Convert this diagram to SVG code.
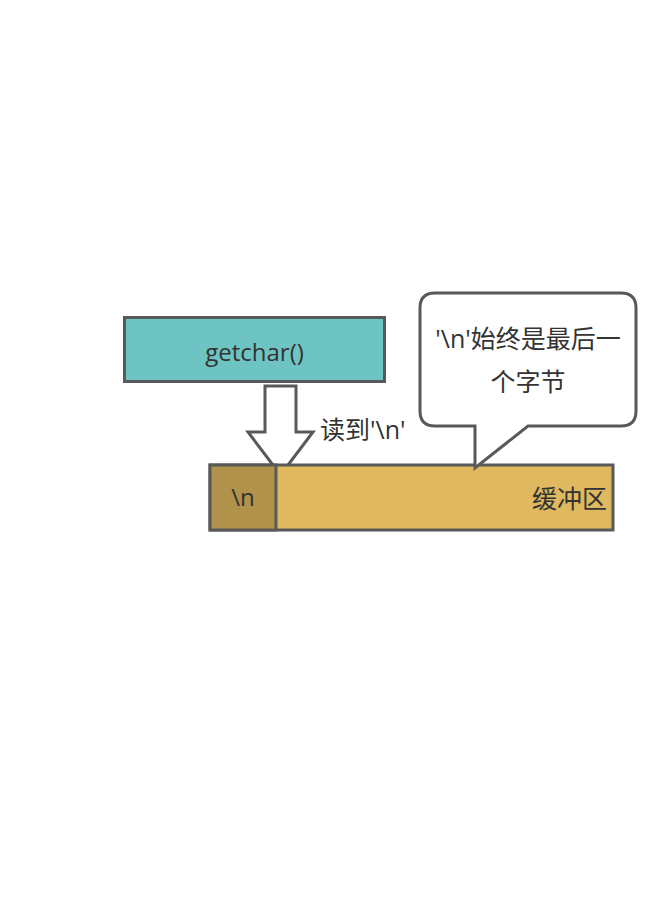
<svg xmlns="http://www.w3.org/2000/svg" width="649" height="919" viewBox="0 0 649 919">
<style>
.s{stroke:#595959;stroke-width:3;}
.t{font-family:"Open Sans","Noto Sans CJK SC",sans-serif;font-size:25px;fill:#333333;}
.m{font-size:24px;}
</style>
<rect width="649" height="919" fill="#ffffff"/>
<g id="connectors">
<polygon class="s" fill="#ffffff" stroke-linejoin="miter" points="265,386 296,386 296,432 313,432 280.5,475 248,432 265,432"/>
</g>
<g id="getchar">
<rect class="s" x="124.5" y="317.5" width="260" height="64" fill="#6EC3C3"/>
<text class="t m" x="254.5" y="361" text-anchor="middle">getchar()</text>
</g>
<g id="buffer">
<rect class="s" x="210" y="465" width="403" height="65" fill="#DFB85F"/>
<text class="t" x="607" y="508" text-anchor="end">缓冲区</text>
</g>
<g id="newline-cell">
<rect class="s" x="210" y="465" width="66" height="65" fill="#B0924A"/>
<text class="t m" x="243" y="506" text-anchor="middle">\n</text>
</g>
<g id="label-read">
<text class="t" x="320" y="439">读到'\n'</text>
</g>
<g id="callout">
<path class="s" fill="#ffffff" stroke-linejoin="miter" d="M435,293 H621 Q636,293 636,308 V411 Q636,426 621,426 H528 L475,468 V426 H435 Q420,426 420,411 V308 Q420,293 435,293 Z"/>
<text class="t" x="528" y="348" text-anchor="middle">'\n'始终是最后一</text>
<text class="t" x="528" y="391" text-anchor="middle">个字节</text>
</g>
</svg>
